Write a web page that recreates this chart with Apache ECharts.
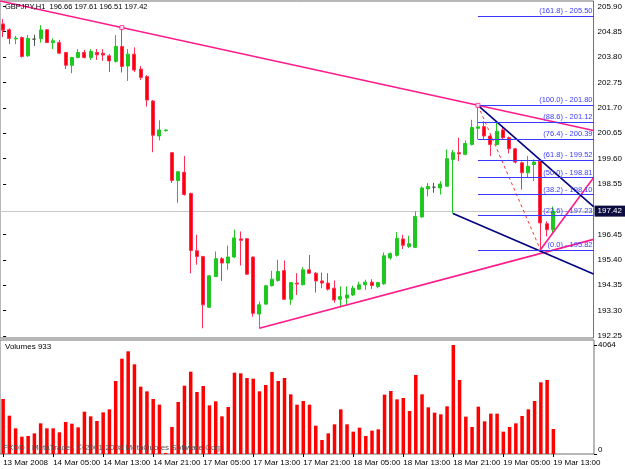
<!DOCTYPE html>
<html>
<head>
<meta charset="utf-8">
<script src="https://cdn.jsdelivr.net/npm/echarts@6/dist/echarts.min.js"></script>
<style>
  html, body { margin: 0; padding: 0; background: #fff; }
  #chart { width: 625px; height: 469px; }
</style>
</head>
<body>
<div id="chart"></div>
<script>
// GBPJPY H1, 13 Mar 21:00 .. 19 Mar 13:00 (89 bars)
const opens = [205.17,204.93,204.55,204.61,203.85,204.54,204.57,204.93,204.40,204.40,
  203.99,203.46,203.78,203.99,203.78,203.99,203.96,203.85,203.62,204.24,
  203.43,203.92,203.30,202.99,201.98,200.53,200.75,199.84,198.69,199.03,
  198.15,195.78,195.54,193.44,194.71,195.45,195.27,195.52,196.27,196.28,
  195.52,193.16,193.57,194.33,194.55,194.96,193.77,194.44,194.37,194.99,
  194.85,194.53,194.44,194.23,193.77,193.82,193.95,194.19,194.37,194.48,
  194.30,194.41,195.48,195.59,196.27,195.96,195.92,197.18,198.34,198.41,
  198.38,198.45,199.56,199.84,199.77,200.18,200.85,200.92,200.53,200.18,
  200.78,200.46,200.00,199.42,199.01,199.35,199.49,196.90,196.66];
const highs = [205.37,204.99,204.68,204.65,204.72,204.72,205.12,204.96,204.57,204.51,
  204.01,203.81,204.13,204.10,204.13,204.13,204.13,203.92,204.71,205.02,
  204.13,204.20,203.43,203.05,202.02,201.18,200.80,199.87,199.06,199.70,
  198.19,196.44,195.57,194.78,195.75,195.52,195.99,196.65,196.58,196.31,
  195.54,193.67,194.37,194.95,195.41,195.38,194.49,194.85,195.09,195.61,
  194.90,194.88,194.85,194.55,194.30,194.30,194.33,194.50,194.58,194.60,
  194.49,195.71,195.71,196.55,196.44,196.40,197.41,198.44,198.59,198.59,
  198.66,199.97,199.95,200.46,200.35,201.20,201.80,201.14,200.61,201.08,
  200.88,200.51,200.04,199.48,199.70,199.56,199.56,197.00,197.61];
const lows = [204.63,204.33,204.33,203.78,203.81,204.26,204.40,204.38,204.13,203.92,
  203.30,203.13,203.75,203.74,203.68,203.68,203.64,203.18,203.57,203.16,
  202.81,203.18,202.85,201.75,199.86,200.35,200.72,198.59,197.76,198.06,
  194.85,195.20,192.57,193.41,194.70,194.53,194.99,195.48,195.17,194.78,
  193.05,192.57,193.54,194.30,194.50,193.74,193.54,193.95,194.35,194.82,
  194.05,194.23,194.13,193.63,193.44,193.54,193.91,194.16,194.16,194.20,
  194.23,194.37,195.41,195.54,195.85,195.90,195.89,197.15,198.03,198.18,
  198.11,198.44,197.32,199.49,199.73,200.14,200.39,200.39,199.70,200.14,
  200.39,199.81,199.39,198.31,198.80,198.66,195.82,196.37,196.51];
const closes = [204.91,204.57,204.58,203.82,204.57,204.54,204.92,204.40,204.47,203.96,
  203.46,203.78,203.99,203.78,204.03,203.89,203.88,203.64,204.24,203.41,
  203.92,203.26,202.95,202.02,200.56,200.78,200.78,198.69,199.05,198.11,
  195.79,195.54,193.54,194.74,195.45,195.27,195.52,196.31,196.21,194.81,
  193.19,193.54,194.33,194.60,194.92,193.77,194.46,194.40,194.99,194.85,
  194.53,194.44,194.19,193.74,193.88,193.95,194.23,194.37,194.48,194.34,
  194.46,195.57,195.66,196.29,196.01,196.07,197.20,198.38,198.44,198.41,
  198.54,199.59,199.84,199.79,200.22,200.88,200.91,200.53,200.18,200.73,
  200.46,200.00,199.45,199.01,199.28,199.45,196.93,196.65,197.42];
const volumes = [2050,1428,957,646,671,770,1143,957,957,808,
  1193,1131,994,1578,1404,1230,1553,1665,2721,3553,
  3828,3343,2510,2336,2050,1839,40,1007,1939,2547,
  3069,2311,2535,1814,1964,1404,1752,3032,3007,2833,
  2809,2336,2572,3057,2721,2833,2225,1839,1976,1839,
  1056,522,770,1106,1665,1106,833,982,671,870,
  919,2212,2349,2038,2088,1603,2945,2225,1740,1541,
  1479,1777,4064,2759,1392,1007,1765,1218,1504,1504,
  833,1007,1143,1417,1665,1976,2672,2759,933];

const timeLabels = ['13 Mar 2008','14 Mar 05:00','14 Mar 13:00','14 Mar 21:00','17 Mar 05:00',
  '17 Mar 13:00','17 Mar 21:00','18 Mar 05:00','18 Mar 13:00','18 Mar 21:00','19 Mar 05:00','19 Mar 13:00'];
const priceTicks = [205.90,204.85,203.80,202.75,201.70,200.65,199.60,198.55,196.45,195.40,194.35,193.30,192.25];
const volumeTicks = [0, 4064];

// drawn objects: [bar index, price]
const upperTrend = [[-0.5, 206.12], [94.5, 200.76]];
const lowerTrend = [[41, 192.57], [94.5, 196.25]];
const reboundLine = [[86, 195.82], [94.5, 198.80]];
const channelTop = [[76, 201.80], [94.5, 197.61]];
const channelBottom = [[72, 197.32], [94.5, 194.82]];
const fibSwing = [[76, 201.80], [86, 195.82]];
const fibPct = ['0.0','23.6','38.2','50.0','61.8','76.4','88.6','100.0','161.8'];
const fibLevels = [195.82,197.23,198.10,198.81,199.52,200.39,201.12,201.80,205.50];
const anchors = [[19, 205.02], [76, 201.80]];
const bid = 197.42;

const slots = 95;
const cats = Array.from({ length: slots }, (_, i) => String(i));

const chart = echarts.init(document.getElementById('chart'));
const font = 'Liberation Sans';
const up = '#1ec81e', down = '#ff0000';

const candles = opens.map((o, i) => {
  const item = { value: [o, closes[i], lows[i], highs[i]] };
  if (o === closes[i]) {
    item.itemStyle = { color: '#505050', borderColor: '#505050' };
  }
  return item;
});

const lineSeries = (data, color, width, type) => ({
  type: 'line', xAxisIndex: 2, yAxisIndex: 0, data: data,
  symbol: 'none', silent: true, z: 4,
  lineStyle: { color: color, width: width, type: type || 'solid' }
});

const option = {
  animation: false,
  backgroundColor: '#fff',
  textStyle: { fontFamily: font },
  grid: [
    { left: 0, right: 31, top: 1, height: 337, show: true, borderColor: '#707070', borderWidth: 1 },
    { left: 0, right: 31, top: 340, height: 114, show: true, borderColor: '#707070', borderWidth: 1 }
  ],
  xAxis: [
    { type: 'category', gridIndex: 0, data: cats, boundaryGap: true, show: false },
    {
      type: 'category', gridIndex: 1, data: cats, boundaryGap: true,
      axisLine: { show: false },
      axisTick: { show: true, interval: 7, alignWithLabel: true, length: 3, lineStyle: { color: '#000' } },
      axisLabel: {
        interval: 7, align: 'left', margin: 5, fontSize: 8, color: '#000',
        formatter: (v, i) => timeLabels[i / 8] || ''
      }
    },
    { type: 'value', gridIndex: 0, min: -0.5, max: slots - 0.5, show: false }
  ],
  yAxis: [
    {
      type: 'value', gridIndex: 0, position: 'right', min: 192.167, max: 206.12, scale: true,
      axisLine: { show: false },
      splitLine: { show: false },
      axisTick: { show: true, length: 3, customValues: priceTicks, lineStyle: { color: '#000' } },
      axisLabel: { customValues: priceTicks, margin: 4, fontSize: 8, color: '#000',
        formatter: v => v.toFixed(2) }
    },
    {
      type: 'value', gridIndex: 1, position: 'right', min: 0, max: 4250,
      axisLine: { show: false },
      splitLine: { show: false },
      axisTick: { show: true, length: 3, customValues: volumeTicks, lineStyle: { color: '#000' } },
      axisLabel: { customValues: volumeTicks, margin: 4, fontSize: 8, color: '#000',
        formatter: v => v === 0 ? '{z|0}' : String(v),
        rich: { z: { fontSize: 8, padding: [0, 0, 8, 0] } } }
    }
  ],
  series: [
    {
      type: 'candlestick', xAxisIndex: 0, yAxisIndex: 0, data: candles,
      barWidth: 3.5, z: 3,
      itemStyle: { color: up, color0: down, borderColor: up, borderColor0: '#ff2d55', borderWidth: 1 },
      markLine: {
        silent: true, symbol: 'none', z: 1,
        lineStyle: { color: '#c8c8c8', width: 1, type: 'solid' },
        label: {
          position: 'end', distance: 1, formatter: bid.toFixed(2), color: '#fff',
          backgroundColor: '#0c0c40', padding: [2, 3, 1, 3], fontSize: 8, fontFamily: font
        },
        data: [{ yAxis: bid }]
      }
    },
    {
      type: 'bar', xAxisIndex: 1, yAxisIndex: 1, data: volumes,
      barWidth: 3.5, itemStyle: { color: '#ff0000' }
    },
    lineSeries(upperTrend, '#ff1a8c', 1.6),
    lineSeries(lowerTrend, '#ff1a8c', 1.6),
    lineSeries(reboundLine, '#ff1a8c', 1.6),
    lineSeries(channelTop, '#000080', 1.6),
    lineSeries(channelBottom, '#000080', 1.6),
    Object.assign(lineSeries(fibSwing, '#ff3333', 1, [3, 3]), {
      markLine: {
        silent: true, symbol: 'none',
        lineStyle: { color: '#3a3aff', width: 1, type: 'solid' },
        label: {
          position: 'insideEndTop', distance: 1, color: '#3a3aff', fontSize: 7.5, fontFamily: font,
          formatter: p => '(' + fibPct[p.dataIndex] + ') - ' + fibLevels[p.dataIndex].toFixed(2)
        },
        data: fibLevels.map(l => [{ coord: [76, l] }, { coord: [slots - 0.5, l] }])
      }
    }),
    {
      type: 'scatter', xAxisIndex: 2, yAxisIndex: 0, data: anchors, silent: true, z: 5,
      symbol: 'rect', symbolSize: 4,
      itemStyle: { color: '#fff', borderColor: '#ff1a8c', borderWidth: 1 }
    }
  ],
  graphic: [
    { type: 'text', left: 5, top: 3, z: 10,
      style: { text: 'GBPJPY,H1  196.66 197.61 196.51 197.42', fill: '#000', font: '7.5px "Liberation Sans"' } },
    { type: 'text', left: 5, top: 343, z: 10,
      style: { text: 'Volumes 933', fill: '#000', font: '8px "Liberation Sans"' } },
    { type: 'text', left: 3, top: 444, z: 10,
      style: { text: 'FXDD - MetaTrader, \u00a9 2001-2008 MetaQuotes Software Corp.', fill: '#505050', font: '8px "Liberation Sans"' } }
  ]
};

chart.setOption(option);
</script>
</body>
</html>
